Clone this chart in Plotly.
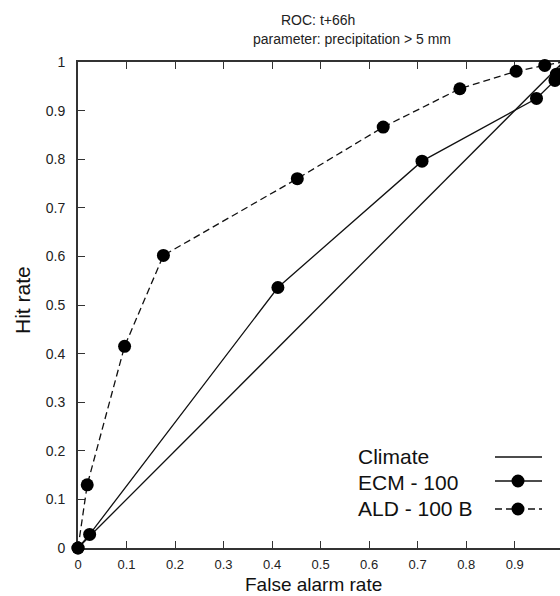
import plotly.graph_objects as go

# ---- data ----
climate_far = [0.0, 1.0]
climate_hr = [0.0, 1.0]

ecm_far = [0.0, 0.024, 0.412, 0.709, 0.945, 0.983, 0.986, 1.0]
ecm_hr = [0.0, 0.028, 0.536, 0.796, 0.925, 0.962, 0.975, 1.0]

ald_far = [0.0, 0.019, 0.096, 0.176, 0.452, 0.629, 0.787, 0.903, 0.962, 1.0]
ald_hr = [0.0, 0.130, 0.415, 0.602, 0.760, 0.866, 0.945, 0.981, 0.993, 1.0]

x_tickvals = [0, 0.1, 0.2, 0.3, 0.4, 0.5, 0.6, 0.7, 0.8, 0.9]
x_ticktext = ["0", "0.1", "0.2", "0.3", "0.4", "0.5", "0.6", "0.7", "0.8", "0.9"]
y_tickvals = [0, 0.1, 0.2, 0.3, 0.4, 0.5, 0.6, 0.7, 0.8, 0.9, 1.0]
y_ticktext = ["0", "0.1", "0.2", "0.3", "0.4", "0.5", "0.6", "0.7", "0.8", "0.9", "1"]

legend_names = ["Climate", "ECM - 100", "ALD - 100 B"]
title_line1 = "ROC: t+66h"
title_line2 = "parameter: precipitation > 5 mm"
x_title = "False alarm rate"
y_title = "Hit rate"

FONT = "Liberation Sans, Arial, sans-serif"
INK = "#111111"
AX = "#333333"

fig = go.Figure()
fig.add_trace(go.Scatter(x=climate_far, y=climate_hr, mode="lines",
                         line=dict(color=INK, width=1.3), cliponaxis=False,
                         showlegend=False))
fig.add_trace(go.Scatter(x=ecm_far, y=ecm_hr, mode="lines+markers",
                         line=dict(color=INK, width=1.3),
                         marker=dict(size=13, color="black"), cliponaxis=False,
                         showlegend=False))
fig.add_trace(go.Scatter(x=ald_far, y=ald_hr, mode="lines+markers",
                         line=dict(color=INK, width=1.3, dash="7px,4px"),
                         marker=dict(size=13, color="black"), cliponaxis=False,
                         showlegend=False))

W, H = 560, 596
L, T, B = 78, 62, 48
pw = W - L
ph = H - T - B
xscale = 485.2  # pixels per unit on x
xmax = pw / xscale

def px2paper_x(px):
    return (px - L) / pw

def px2paper_y(py):
    return (H - B - py) / ph

fig.update_layout(
    width=W, height=H,
    margin=dict(l=L, r=0, t=T, b=B, autoexpand=False),
    paper_bgcolor="white", plot_bgcolor="white",
    font=dict(family=FONT, color=INK, size=14),
    showlegend=False,
    xaxis=dict(range=[0, xmax], tickvals=x_tickvals, ticktext=x_ticktext,
               ticks="inside", ticklen=7, tickwidth=1.2, tickcolor=AX,
               showline=True, linewidth=2, linecolor=AX, mirror="ticks",
               showgrid=False, zeroline=False, layer="below traces",
               tickfont=dict(size=13, family=FONT, color="#222"),
               ticklabelstandoff=3),
    yaxis=dict(range=[0, 1], tickvals=y_tickvals, ticktext=y_ticktext,
               ticks="inside", ticklen=7, tickwidth=1.2, tickcolor=AX,
               showline=True, linewidth=2, linecolor=AX, mirror=False,
               showgrid=False, zeroline=False, layer="below traces",
               tickfont=dict(size=14, family=FONT, color="#222"),
               ticklabelstandoff=8),
    yaxis2=dict(range=[0, 1], tickvals=y_tickvals, overlaying="y", side="right",
                anchor="x", ticks="inside", ticklen=7, tickwidth=1.2, tickcolor=AX,
                showticklabels=False, showline=False, showgrid=False,
                zeroline=False),
)

annotations = [
    dict(text=title_line1, x=px2paper_x(318), y=px2paper_y(20),
         font=dict(size=14, family=FONT, color="#222")),
    dict(text=title_line2, x=px2paper_x(352), y=px2paper_y(39),
         font=dict(size=14, family=FONT, color="#222")),
    dict(text=x_title, x=px2paper_x(313), y=px2paper_y(584),
         font=dict(size=19, family=FONT, color=INK)),
    dict(text=y_title, x=px2paper_x(22), y=px2paper_y(300), textangle=-90,
         font=dict(size=21, family=FONT, color=INK)),
]
legend_y_px = [456, 482, 508]
for name, ly in zip(legend_names, legend_y_px):
    annotations.append(dict(text=name, x=px2paper_x(356), y=px2paper_y(ly),
                            xanchor="left", font=dict(size=21, family=FONT, color=INK)))
for a in annotations:
    a.setdefault("xanchor", "center")
    a.update(xref="paper", yref="paper", yanchor="middle", showarrow=False)
fig.update_layout(annotations=annotations)

# legend samples (decoration, paper coordinates)
sx0, sx1, smid = px2paper_x(495), px2paper_x(542), px2paper_x(518)
shapes = []
dashes = ["solid", "solid", "7px,4px"]
for i, ly in enumerate([457, 481, 509]):
    yy = px2paper_y(ly)
    shapes.append(dict(type="line", xref="paper", yref="paper", x0=sx0, x1=sx1,
                       y0=yy, y1=yy, line=dict(color=INK, width=1.3, dash=dashes[i])))
    if i > 0:
        shapes.append(dict(type="circle", xref="paper", yref="paper",
                           xsizemode="pixel", ysizemode="pixel",
                           xanchor=smid, yanchor=yy, x0=-6.5, x1=6.5, y0=-6.5, y1=6.5,
                           fillcolor="black", line=dict(color="black", width=0)))
fig.update_layout(shapes=shapes)

fig.write_html("out.html")
